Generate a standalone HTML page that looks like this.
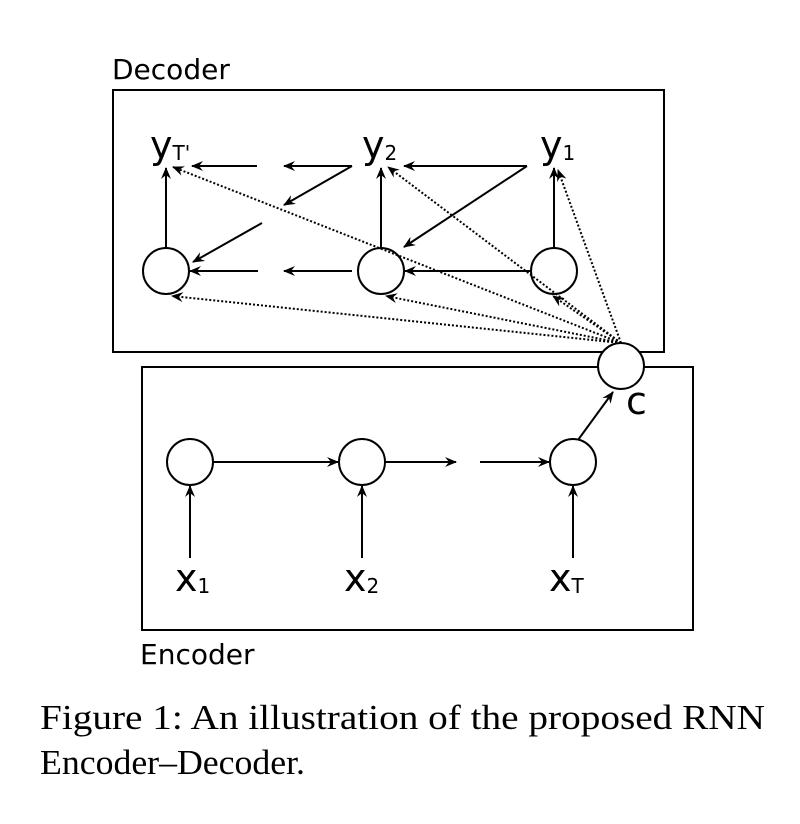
<!DOCTYPE html>
<html><head><style>body{margin:0;background:#fff}svg{display:block}</style></head><body>
<svg width="800" height="824" viewBox="0 0 800 824" xmlns="http://www.w3.org/2000/svg">
<defs>
<marker id="a" markerWidth="12" markerHeight="10" refX="11" refY="5" orient="auto" markerUnits="userSpaceOnUse">
<path d="M0,0 L12,5 L0,10 L4,5 Z" fill="#000"/></marker>
</defs>
<g fill="none" stroke="#000" stroke-width="2">
<rect x="113" y="90" width="551" height="262"/>
<rect x="142" y="367" width="551" height="263"/>
<circle cx="166" cy="271" r="23"/>
<circle cx="381" cy="271" r="23"/>
<circle cx="554" cy="271" r="23"/>
<circle cx="621" cy="366" r="23" fill="#fff"/>
<circle cx="190" cy="462" r="23"/>
<circle cx="362" cy="462" r="23"/>
<circle cx="573" cy="462" r="23"/>
</g>
<g stroke="#000" stroke-width="2" marker-end="url(#a)">
<line x1="166" y1="248" x2="166" y2="168"/>
<line x1="381" y1="248" x2="381" y2="168"/>
<line x1="554" y1="248" x2="554" y2="168"/>
<line x1="257" y1="166" x2="192" y2="166"/>
<line x1="352" y1="166" x2="284" y2="166"/>
<line x1="527" y1="166" x2="404" y2="166"/>
<line x1="352" y1="166" x2="284" y2="205"/>
<line x1="262" y1="223" x2="193" y2="262"/>
<line x1="527" y1="166" x2="404" y2="247"/>
<line x1="258" y1="271" x2="190" y2="271"/>
<line x1="352" y1="271" x2="284" y2="271"/>
<line x1="530" y1="271" x2="405" y2="271"/>
<line x1="213" y1="462" x2="338" y2="462"/>
<line x1="385" y1="462" x2="456" y2="462"/>
<line x1="480" y1="462" x2="549" y2="462"/>
<line x1="190" y1="558" x2="190" y2="486"/>
<line x1="362" y1="558" x2="362" y2="486"/>
<line x1="573" y1="558" x2="573" y2="486"/>
<line x1="578" y1="440" x2="613" y2="392"/>
</g>
<g stroke="#000" stroke-width="2" stroke-dasharray="2,2" marker-end="url(#a)">
<line x1="621" y1="343" x2="173" y2="167"/>
<line x1="621" y1="343" x2="388" y2="167"/>
<line x1="621" y1="343" x2="558" y2="170"/>
<line x1="621" y1="343" x2="172" y2="296"/>
<line x1="621" y1="343" x2="386" y2="296"/>
<line x1="621" y1="343" x2="553" y2="296"/>
</g>
<g font-family="DejaVu Sans, sans-serif" fill="#000">
<text x="112" y="79" font-size="28">Decoder</text>
<text x="140" y="664" font-size="28">Encoder</text>
<text x="150" y="158" font-size="38">y<tspan font-size="20" dy="2">T'</tspan></text>
<text x="362" y="158" font-size="38">y<tspan font-size="20" dy="2">2</tspan></text>
<text x="540" y="158" font-size="38">y<tspan font-size="20" dy="2">1</tspan></text>
<text x="626" y="414" font-size="38">c</text>
<text x="175" y="591" font-size="38">x<tspan font-size="20" dy="2">1</tspan></text>
<text x="344" y="591" font-size="38">x<tspan font-size="20" dy="2">2</tspan></text>
<text x="549" y="591" font-size="38">x<tspan font-size="20" dy="2">T</tspan></text>
</g>
<g font-family="Liberation Serif, serif" font-size="35" fill="#000">
<text x="40" y="729" textLength="725" lengthAdjust="spacingAndGlyphs">Figure 1:  An illustration of the proposed RNN</text>
<text x="40" y="774" textLength="265" lengthAdjust="spacingAndGlyphs">Encoder–Decoder.</text>
</g>
</svg>
</body></html>
